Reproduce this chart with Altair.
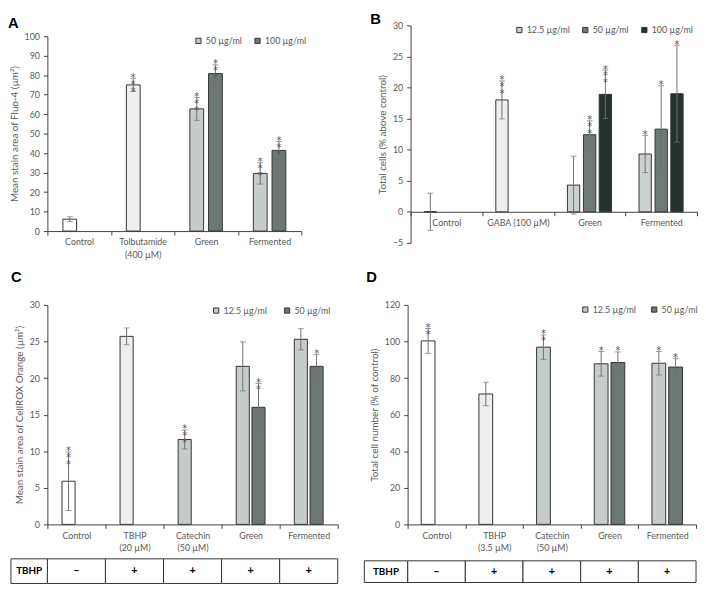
import altair as alt
import pandas as pd

FONT = "Lato"
GRAY = "#595959"
AXC = "#404040"
EBC = "#707070"
STC = "#555555"

# ---------------- Panel A ----------------
a_cats = ["Control", "Tolbutamide\n(400 µM)", "Green", "Fermented"]
a_cat = ["Control", "Tolbutamide\n(400 µM)", "Green", "Green", "Fermented", "Fermented"]
a_series = ["Control", "Tolbutamide", "50 µg/ml", "100 µg/ml", "50 µg/ml", "100 µg/ml"]
a_slot = [0, 0, 0, 1, 0, 1]
a_mean = [6.1, 75.0, 62.7, 80.8, 29.6, 41.4]
a_err = [1.25, 3.4, 5.9, 4.5, 5.5, 4.6]
a_stars = ["", "***", "***", "***", "***", "***"]
a_series_dom = ["Control", "Tolbutamide", "50 µg/ml", "100 µg/ml"]
a_colors = ["#ffffff", "#eeeeee", "#c6ccc9", "#6d7874"]

# ---------------- Panel B ----------------
b_cats = ["Control", "GABA (100 µM)", "Green", "Fermented"]
b_cat = ["Control", "GABA (100 µM)", "Green", "Green", "Green", "Fermented", "Fermented", "Fermented"]
b_series = ["Control", "GABA", "12.5 µg/ml", "50 µg/ml", "100 µg/ml", "12.5 µg/ml", "50 µg/ml", "100 µg/ml"]
b_slot = [0, 0, 0, 1, 2, 0, 1, 2]
b_mean = [0.0, 18.0, 4.3, 12.4, 18.9, 9.3, 13.3, 19.0]
b_err = [3.0, 3.05, 4.65, 2.25, 3.9, 3.0, 7.0, 7.8]
b_stars = ["", "***", "", "***", "***", "*", "*", "*"]
b_series_dom = ["Control", "GABA", "12.5 µg/ml", "50 µg/ml", "100 µg/ml"]
b_colors = ["#ffffff", "#eeeeee", "#cbd1cd", "#6f7a76", "#25312e"]

# ---------------- Panel C ----------------
c_cats = ["Control", "TBHP\n(20 µM)", "Catechin\n(50 µM)", "Green", "Fermented"]
c_cat = ["Control", "TBHP\n(20 µM)", "Catechin\n(50 µM)", "Green", "Green", "Fermented", "Fermented"]
c_series = ["Control", "TBHP", "Catechin", "12.5 µg/ml", "50 µg/ml", "12.5 µg/ml", "50 µg/ml"]
c_slot = [0, 0, 0, 0, 1, 0, 1]
c_mean = [5.9, 25.7, 11.6, 21.6, 16.0, 25.3, 21.6]
c_err = [4.0, 1.15, 1.3, 3.35, 3.27, 1.45, 1.6]
c_stars = ["***", "", "***", "", "**", "", "*"]
c_series_dom = ["Control", "TBHP", "Catechin", "12.5 µg/ml", "50 µg/ml"]
c_colors = ["#ffffff", "#eeeeee", "#c6ccc9", "#c6ccc9", "#6d7874"]
c_tbhp = ["–", "+", "+", "+", "+"]

# ---------------- Panel D ----------------
d_cats = ["Control", "TBHP\n(3.5 µM)", "Catechin\n(50 µM)", "Green", "Fermented"]
d_cat = ["Control", "TBHP\n(3.5 µM)", "Catechin\n(50 µM)", "Green", "Green", "Fermented", "Fermented"]
d_series = ["Control", "TBHP", "Catechin", "12.5 µg/ml", "50 µg/ml", "12.5 µg/ml", "50 µg/ml"]
d_slot = [0, 0, 0, 0, 1, 0, 1]
d_mean = [100.3, 71.3, 96.9, 87.8, 88.5, 88.1, 86.0]
d_err = [6.8, 6.4, 6.7, 6.7, 5.8, 6.4, 4.75]
d_stars = ["**", "", "**", "*", "*", "*", "*"]
d_series_dom = ["Control", "TBHP", "Catechin", "12.5 µg/ml", "50 µg/ml"]
d_colors = ["#ffffff", "#eeeeee", "#c6ccc9", "#c6ccc9", "#6d7874"]
d_tbhp = ["–", "+", "+", "+", "+"]


def panel(cats, cat, series, slot, mean, err, stars, sdom, colors, legend_vals,
          ydom, yvals, ytitle, width, height, letter, t_offset, t_dx,
          lx, ly, colpad, bar_w, slot_shift, x_axis_offset=0, top_gap=0,
          table=None, lab_w=40, tab_top=35, tab_h=25):
    df = pd.DataFrame({
        "cat": cat, "series": series, "slot": slot, "mean": mean,
        "lo": [m - e for m, e in zip(mean, err)],
        "hi": [m + e for m, e in zip(mean, err)],
        "stars": ["\n".join(list(s)) for s in stars],
    })
    xaxis = alt.Axis(title=None, labelAngle=0, tickBand="extent",
                     labelExpr="split(datum.label, '\\n')",
                     labelLineHeight=13, labelPadding=3, tickSize=4,
                     offset=x_axis_offset, labelOverlap=False,
                     domainColor=AXC, tickColor=AXC, labelColor=GRAY,
                     labelFont=FONT, labelFontSize=9)
    X = alt.X("cat:N", sort=cats,
              scale=alt.Scale(domain=cats, paddingInner=0, paddingOuter=0),
              axis=xaxis)
    if top_gap:
        ysc = alt.Scale(domain=ydom, nice=False, zero=True, range=[height, top_gap])
    else:
        ysc = alt.Scale(domain=ydom, nice=False, zero=True)
    yaxis = alt.Axis(title=ytitle, values=yvals, grid=False, tickSize=4,
                     labelPadding=4, titlePadding=5, labelOverlap=False,
                     domainColor=AXC, tickColor=AXC, labelColor=GRAY,
                     titleColor=GRAY, labelFont=FONT, titleFont=FONT,
                     labelFontSize=9, titleFontSize=10,
                     titleFontWeight="normal")
    Y = alt.Y("mean:Q", scale=ysc, axis=yaxis)
    Ylo = alt.Y("lo:Q", scale=ysc, axis=yaxis)
    Yhi = alt.Y("hi:Q", scale=ysc, axis=yaxis)
    fill = alt.Fill("series:N",
                    scale=alt.Scale(domain=sdom, range=colors),
                    legend=alt.Legend(title=None, values=legend_vals, orient="none",
                                      legendX=lx, legendY=ly, direction="horizontal",
                                      symbolType="square", symbolSize=28,
                                      symbolStrokeColor="#333333",
                                      symbolStrokeWidth=1, symbolOpacity=1,
                                      labelFont=FONT, labelFontSize=9,
                                      labelColor=GRAY, labelOffset=3,
                                      columnPadding=colpad, padding=0))
    bar_layers, err_layers, star_layers = [], [], []
    for s, sh in enumerate(slot_shift):
        ds = df[df["slot"] == s]
        if ds.empty:
            continue
        base = alt.Chart(ds)
        bar_layers.append(base.mark_bar(stroke="#333333", strokeWidth=1, width=bar_w,
                                        xOffset=sh).encode(x=X, y=Y, fill=fill))
        err_layers.append(base.mark_rule(color=EBC, strokeWidth=1, xOffset=sh).encode(
            x=X, y=Ylo, y2="hi:Q"))
        err_layers.append(base.mark_tick(color=EBC, thickness=1, size=6, xOffset=sh).encode(
            x=X, y=Ylo))
        err_layers.append(base.mark_tick(color=EBC, thickness=1, size=6, xOffset=sh).encode(
            x=X, y=Yhi))
        star_layers.append(base.mark_text(font="DejaVu Sans", fontSize=10, color=STC,
                                          baseline="bottom", lineBreak="\n", lineHeight=7,
                                          dy=4.5, xOffset=sh).encode(
            x=X, y=Yhi, text="stars:N"))
    layers = bar_layers + err_layers + star_layers
    if table is not None:
        tdf = pd.DataFrame({"cat": cats, "sign": table})
        tb = alt.Chart(tdf)
        cells = tb.mark_rect(fill="white", stroke="#333333", strokeWidth=1).encode(
            x=X, y=alt.value(height + tab_top), y2=alt.value(height + tab_top + tab_h))
        signs = tb.mark_text(font=FONT, fontSize=11, fontWeight="bold", color="black").encode(
            x=X, y=alt.value(height + tab_top + tab_h / 2), text="sign:N")
        hdf = pd.DataFrame({"row": ["TBHP"]})
        hb = alt.Chart(hdf)
        hcell = hb.mark_rect(fill="white", stroke="#333333", strokeWidth=1).encode(
            x=alt.value(-lab_w), x2=alt.value(0),
            y=alt.value(height + tab_top), y2=alt.value(height + tab_top + tab_h))
        htxt = hb.mark_text(font=FONT, fontSize=10, fontWeight="bold", color="black").encode(
            x=alt.value(-lab_w / 2), y=alt.value(height + tab_top + tab_h / 2), text="row:N")
        layers += [cells, signs, hcell, htxt]
    return alt.layer(*layers).properties(
        width=width, height=height,
        title=alt.TitleParams(letter, anchor="start", frame="group", dx=t_dx,
                              offset=t_offset, font="Liberation Sans", fontSize=15,
                              fontWeight="bold", color="black"))


A = panel(a_cats, a_cat, a_series, a_slot, a_mean, a_err, a_stars, a_series_dom, a_colors,
          ["50 µg/ml", "100 µg/ml"], [0, 100], list(range(0, 101, 10)),
          "Mean stain area of Fluo-4 (µm²)", 258, 209, "A", -6, -40,
          149, 11, 10, 14, [-9.5, 9.5], top_gap=11)
B = panel(b_cats, b_cat, b_series, b_slot, b_mean, b_err, b_stars, b_series_dom, b_colors,
          ["12.5 µg/ml", "50 µg/ml", "100 µg/ml"], [-5, 30], list(range(-5, 31, 5)),
          "Total cells (% above control)", 291, 221, "B", -6, -41,
          106, 0, 10, 12.5, [-16.3, 0, 16], x_axis_offset=-31.6)
C = panel(c_cats, c_cat, c_series, c_slot, c_mean, c_err, c_stars, c_series_dom, c_colors,
          ["12.5 µg/ml", "50 µg/ml"], [0, 30], list(range(0, 31, 5)),
          "Mean stain area of CellROX Orange (µm²)", 295, 223, "C", 16, -37,
          167, 1, 15, 13.3, [-8, 8], table=c_tbhp, lab_w=37, tab_top=35, tab_h=25)
D = panel(d_cats, d_cat, d_series, d_slot, d_mean, d_err, d_stars, d_series_dom, d_colors,
          ["12.5 µg/ml", "50 µg/ml"], [0, 120], list(range(0, 121, 20)),
          "Total cell number (% of control)", 293, 223, "D", 16, -42,
          176, 0, 13, 14, [-8.5, 8.5], table=d_tbhp, lab_w=44, tab_top=37, tab_h=22)


def indep(c):
    return c.resolve_scale(fill="independent").resolve_legend(fill="independent")


top = indep(alt.hconcat(A, B, spacing=65))
bottom = indep(alt.hconcat(C, D, spacing=25))
chart = indep(alt.vconcat(top, bottom, spacing=11)).properties(
    padding=0
).configure_view(stroke=None)

chart.save("out.html", embed_options={"renderer": "svg", "actions": False})
